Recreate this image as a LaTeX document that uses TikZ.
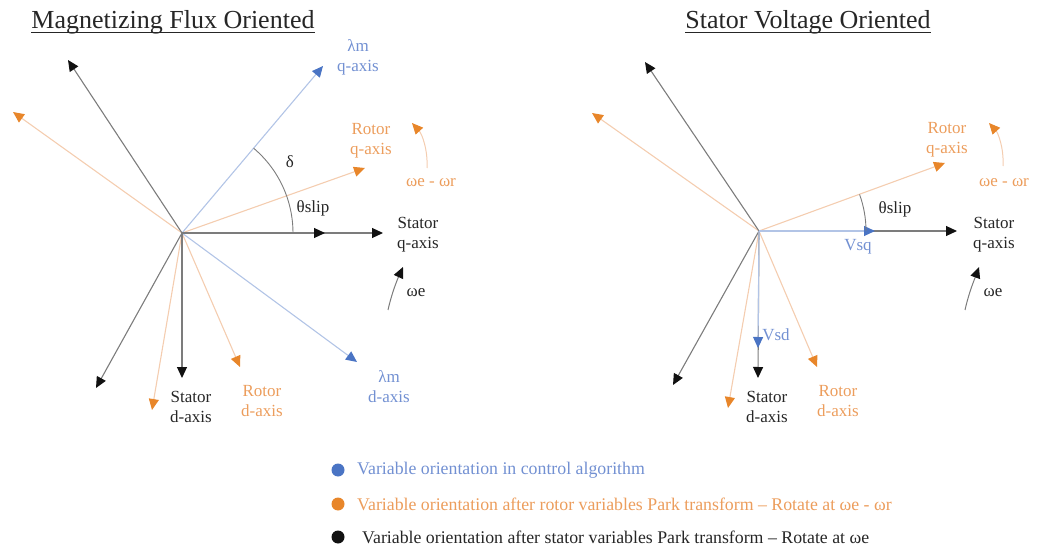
\documentclass[tikz,border=0pt]{standalone}
\usepackage{fontspec}
\setmainfont{Liberation Serif}
\usetikzlibrary{arrows.meta}
\definecolor{kline}{HTML}{7C7C7C}
\definecolor{khead}{HTML}{111111}
\definecolor{oline}{HTML}{F4CDB0}
\definecolor{ohead}{HTML}{E8862A}
\definecolor{bline}{HTML}{B2C4E6}
\definecolor{bhead}{HTML}{4A74C4}
\definecolor{otext}{HTML}{EC9D5C}
\definecolor{btext}{HTML}{7290D2}
\definecolor{ktext}{HTML}{262626}
\tikzset{
  kax/.style={draw=kline, line width=1.1pt, -{Triangle[length=11pt,width=10pt,color=khead]}},
  oax/.style={draw=oline, line width=1.1pt, -{Triangle[length=11pt,width=10pt,color=ohead]}},
  bax/.style={draw=bline, line width=1.1pt, -{Triangle[length=11pt,width=10pt,color=bhead]}},
  anglearc/.style={draw=kline, line width=0.9pt},
  lbl/.style={inner sep=0pt, align=center, font=\fontsize{17}{20}\selectfont},
  ttl/.style={inner sep=0pt, font=\fontsize{26}{30}\selectfont, text=ktext},
  leg/.style={inner sep=0pt, anchor=west, font=\fontsize{17.8}{20}\selectfont},
  dot/.style={circle, inner sep=0pt, minimum size=13pt},
}
\begin{document}
\begin{tikzpicture}[x=1pt,y=-1pt]
\useasboundingbox (0,0) rectangle (1039,548);

% ---------------- titles
\node[ttl] (t1) at (173,22) {Magnetizing Flux Oriented};
\draw[ktext, line width=1.4pt] ([yshift=-4pt]t1.base west) -- ([yshift=-4pt]t1.base east);
\node[ttl] (t2) at (808,22) {Stator Voltage Oriented};
\draw[ktext, line width=1.4pt] ([yshift=-4pt]t2.base west) -- ([yshift=-4pt]t2.base east);

% ---------------- left diagram
\coordinate (O1) at (182,233);
\coordinate (L_kul) at (68,60);
\coordinate (L_kll) at (96,388);
\coordinate (L_kd) at (182,378);
\coordinate (L_kqm) at (325,233);
\coordinate (L_kq) at (383,233);
\coordinate (L_oul) at (13,112);
\coordinate (L_oq) at (365,168);
\coordinate (L_od) at (240,367);
\coordinate (L_oll) at (152,410);
\coordinate (L_bq) at (323,66);
\coordinate (L_bd) at (357,362);

\draw[oax] (O1) -- (L_oul);
\draw[oax] (O1) -- (L_oq);
\draw[oax] (O1) -- (L_od);
\draw[oax] (O1) -- (L_oll);
\draw[bax] (O1) -- (L_bq);
\draw[bax] (O1) -- (L_bd);
\draw[kax] (O1) -- (L_kul);
\draw[kax] (O1) -- (L_kll);
\draw[kax] (O1) -- (L_kd);
\draw[kax] (O1) -- (L_kq);
\draw[kax] (O1) -- (L_kqm);

\draw[anglearc] (O1) ++(-19.6:111) arc[start angle=-19.6, end angle=-49.8, radius=111];
\draw[anglearc] (O1) ++(0:111) arc[start angle=0, end angle=-19.6, radius=111];

\coordinate (L_we0) at (388,310);
\coordinate (L_we1) at (403,267);
\draw[draw=kline, line width=1pt, -{Triangle[length=11pt,width=10pt,color=khead]}]
  (L_we0) .. controls (392,292) and (398,278) .. (L_we1);
\coordinate (L_wr0) at (427,168);
\coordinate (L_wr1) at (412,123);
\draw[draw=oline, line width=1pt, -{Triangle[length=11pt,width=10pt,color=ohead]}]
  (L_wr0) .. controls (428,150) and (422,134) .. (L_wr1);

\node[lbl, text=btext] (L_lbq) at (358,57) {λm\\q-axis};
\node[lbl, text=otext] (L_loq) at (371,141) {Rotor\\q-axis};
\node[lbl, text=ktext] (L_lkq) at (418,235) {Stator\\q-axis};
\node[lbl, text=ktext] (L_lkd) at (191,407) {Stator\\d-axis};
\node[lbl, text=otext] (L_lod) at (262,401) {Rotor\\d-axis};
\node[lbl, text=btext] (L_lbd) at (389,387) {λm\\d-axis};
\node[lbl, text=ktext] (L_delta) at (290,162) {δ};
\node[lbl, text=ktext] (L_slip) at (313,208) {θslip};
\node[lbl, text=ktext] (L_we) at (416,293) {ωe};
\node[lbl, text=otext] (L_wer) at (431,183) {ωe - ωr};

% ---------------- right diagram
\coordinate (O2) at (759,231);
\coordinate (R_kul) at (645,62);
\coordinate (R_kll) at (673,385);
\coordinate (R_kd) at (758,378);
\coordinate (R_kq) at (957,231);
\coordinate (R_oul) at (592,113);
\coordinate (R_oq) at (945,163);
\coordinate (R_od) at (817,367);
\coordinate (R_oll) at (728,408);
\coordinate (R_bq) at (875,231);
\coordinate (R_bd) at (758,348);

\draw[oax] (O2) -- (R_oul);
\draw[oax] (O2) -- (R_oq);
\draw[oax] (O2) -- (R_od);
\draw[oax] (O2) -- (R_oll);
\draw[kax] (O2) -- (R_kul);
\draw[kax] (O2) -- (R_kll);
\draw[kax] (O2) -- (R_kd);
\draw[kax] (O2) -- (R_kq);
\draw[bax] (O2) -- (R_bq);
\draw[bax] (O2) -- (R_bd);

\draw[anglearc] (O2) ++(0:107) arc[start angle=0, end angle=-20, radius=107];

\coordinate (R_we0) at (965,310);
\coordinate (R_we1) at (979,267);
\draw[draw=kline, line width=1pt, -{Triangle[length=11pt,width=10pt,color=khead]}]
  (R_we0) .. controls (969,292) and (975,278) .. (R_we1);
\coordinate (R_wr0) at (1003,166);
\coordinate (R_wr1) at (989,123);
\draw[draw=oline, line width=1pt, -{Triangle[length=11pt,width=10pt,color=ohead]}]
  (R_wr0) .. controls (1004,148) and (998,133) .. (R_wr1);

\node[lbl, text=otext] (R_loq) at (947,140) {Rotor\\q-axis};
\node[lbl, text=ktext] (R_lkq) at (994,235) {Stator\\q-axis};
\node[lbl, text=ktext] (R_lkd) at (767,407) {Stator\\d-axis};
\node[lbl, text=otext] (R_lod) at (838,401) {Rotor\\d-axis};
\node[lbl, text=btext] (R_vsq) at (858,247) {Vsq};
\node[lbl, text=btext] (R_vsd) at (776,335) {Vsd};
\node[lbl, text=ktext] (R_slip) at (895,209) {θslip};
\node[lbl, text=ktext] (R_we) at (993,293) {ωe};
\node[lbl, text=otext] (R_wer) at (1004,183) {ωe - ωr};

% ---------------- legend
\node[dot, fill=bhead] (d1) at (338,470) {};
\node[dot, fill=ohead] (d2) at (338,504) {};
\node[dot, fill=khead] (d3) at (338,537) {};
\node[leg, text=btext] (g1) at (357,470) {Variable orientation in control algorithm};
\node[leg, text=otext] (g2) at (357,504) {Variable orientation after rotor variables Park transform – Rotate at ωe - ωr};
\node[leg, text=ktext] (g3) at (362,537) {Variable orientation after stator variables Park transform – Rotate at ωe};
\end{tikzpicture}
\end{document}
